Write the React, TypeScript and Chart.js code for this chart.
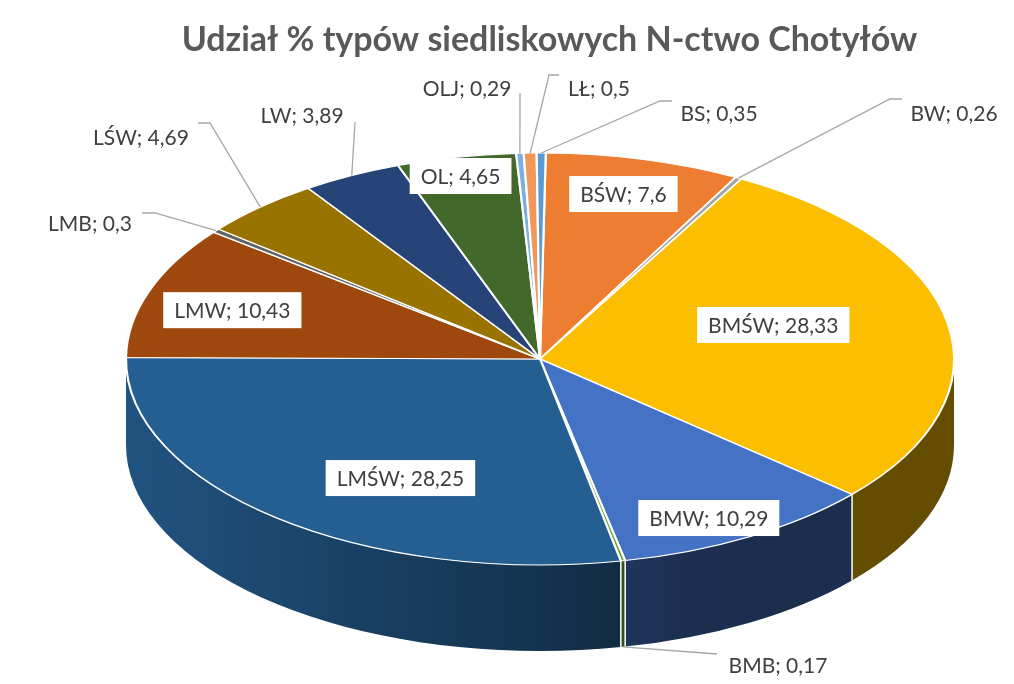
import React, { useEffect, useRef } from 'react';
import { Chart, registerables } from 'chart.js';

Chart.register(...registerables);

// ---- data (clockwise from the top) ----
const categories = ['BŚW', 'BW', 'BMŚW', 'BMW', 'BMB', 'LMŚW', 'LMW', 'LMB', 'LŚW', 'LW', 'OL', 'OLJ', 'LŁ', 'BS'];
const values = [7.6, 0.26, 28.33, 10.29, 0.17, 28.25, 10.43, 0.3, 4.69, 3.89, 4.65, 0.29, 0.5, 0.35];
const titleText = 'Udział % typów siedliskowych N-ctwo Chotyłów';

// ---- styles ----
const topColors = ['#ED7D31', '#A5A5A5', '#FBBE00', '#4472C4', '#70AD47', '#255E91', '#9E480E', '#636363', '#997300', '#264478', '#43682B', '#7CAFDD', '#F1975A', '#5B9BD5'];
const FONT = 'Lato, "Liberation Sans", sans-serif';
const ROTATION = 0.8;
const CX = 540, CY = 359, RX = 414, RY = 206, DEPTH = 86;

// label layout (annotation placement only)
type Lay = { inside?: boolean; fx?: number; fy?: number; tx?: number; ty?: number; path?: number[][]; fromBottom?: boolean };
const labelLayout: Lay[] = [
  { inside: true, fx: 0.806, fy: 0.827 },
  { tx: 954, ty: 113, path: [[890, 99], [902, 99]] },
  { inside: true, fx: 0.572, fy: 0.96 },
  { inside: true, fx: 0.806, fy: 0.895 },
  { tx: 778, ty: 665, path: [[717, 654]], fromBottom: true },
  { inside: true, fx: 0.529, fy: 0.75 },
  { inside: true, fx: 0.787, fy: 0.72 },
  { tx: 90, ty: 223, path: [[155, 213], [142, 213]] },
  { tx: 141, ty: 137, path: [[210, 123], [198, 123]] },
  { tx: 302, ty: 115, path: [[355, 122]] },
  { inside: true, fx: 0.948, fy: 0.907 },
  { tx: 467, ty: 88, path: [[520, 93]] },
  { tx: 599, ty: 88, path: [[549, 75], [559, 75]] },
  { tx: 719, ty: 113, path: [[660, 101], [672, 101]] },
];

function shade(hex: string, f: number) {
  const n = parseInt(hex.slice(1), 16);
  const r = Math.round(((n >> 16) & 255) * f);
  const g = Math.round(((n >> 8) & 255) * f);
  const b = Math.round((n & 255) * f);
  return `rgb(${r},${g},${b})`;
}
const sideFactor = (x: number) => Math.max(0.4, Math.min(0.88, 0.88 - (x - (CX - RX)) * (0.48 / 575)));

export default function App() {
  const ref = useRef<HTMLCanvasElement>(null);
  useEffect(() => {
    document.body.style.margin = '0';
    const canvas = ref.current!;
    const pie3d = {
      id: 'pie3d',
      beforeDatasetsDraw(chart: any) {
        const ctx = chart.ctx as CanvasRenderingContext2D;
        const arcs = chart.getDatasetMeta(0).data as any[];
        if (!arcs.length) return;
        const TAU = Math.PI * 2;
        // side walls
        arcs.forEach((arc, i) => {
          for (const off of [-TAU, 0, TAU]) {
            const s = Math.max(arc.startAngle + off, 0);
            const e = Math.min(arc.endAngle + off, Math.PI);
            if (e <= s) continue;
            const x0 = CX + RX * Math.cos(e), x1 = CX + RX * Math.cos(s);
            let fill: any;
            if (Math.abs(x1 - x0) < 1) fill = shade(topColors[i], sideFactor(x0));
            else {
              const g = ctx.createLinearGradient(x0, 0, x1, 0);
              for (let k = 0; k <= 4; k++) {
                const x = x0 + ((x1 - x0) * k) / 4;
                g.addColorStop(k / 4, shade(topColors[i], sideFactor(x)));
              }
              fill = g;
            }
            ctx.beginPath();
            ctx.ellipse(CX, CY, RX, RY, 0, s, e);
            ctx.ellipse(CX, CY + DEPTH, RX, RY, 0, e, s, true);
            ctx.closePath();
            ctx.fillStyle = fill;
            ctx.fill();
          }
        });
        // separators on the wall
        ctx.save();
        ctx.strokeStyle = '#FFFFFF';
        ctx.lineWidth = 1.5;
        arcs.forEach((arc) => {
          let a = arc.startAngle % TAU;
          if (a < 0) a += TAU;
          if (a > 0.03 && a < Math.PI - 0.03) {
            const x = CX + RX * Math.cos(a), y = CY + RY * Math.sin(a);
            ctx.beginPath();
            ctx.moveTo(x, y);
            ctx.lineTo(x, y + DEPTH);
            ctx.stroke();
          }
        });
        ctx.restore();
        // top face: map the library's circle onto the ellipse
        const a0 = arcs[0];
        ctx.save();
        ctx.translate(CX, CY);
        ctx.scale(RX / a0.outerRadius, RY / a0.outerRadius);
        ctx.translate(-a0.x, -a0.y);
      },
      afterDatasetsDraw(chart: any) {
        chart.ctx.restore();
      },
      afterDraw(chart: any) {
        const ctx = chart.ctx as CanvasRenderingContext2D;
        const arcs = chart.getDatasetMeta(0).data as any[];
        ctx.save();
        ctx.font = `21px ${FONT}`;
        ctx.textAlign = 'center';
        ctx.textBaseline = 'middle';
        arcs.forEach((arc, i) => {
          const lay = labelLayout[i];
          const text = `${categories[i]}; ${String(values[i]).replace('.', ',')}`;
          const m = (arc.startAngle + arc.endAngle) / 2;
          if (lay.inside) {
            const x = CX + RX * (lay.fx as number) * Math.cos(m);
            const y = CY + RY * (lay.fy as number) * Math.sin(m);
            const w = ctx.measureText(text).width + 22;
            const h = 36;
            ctx.fillStyle = '#FFFFFF';
            ctx.fillRect(x - w / 2, y - h / 2, w, h);
            ctx.fillStyle = '#404040';
            ctx.fillText(text, x, y + 1);
          } else {
            const sx = CX + RX * Math.cos(m);
            const sy = CY + RY * Math.sin(m) + (lay.fromBottom ? DEPTH : 0);
            ctx.strokeStyle = '#A6A6A6';
            ctx.lineWidth = 1.3;
            ctx.beginPath();
            ctx.moveTo(sx, sy);
            (lay.path || []).forEach((p) => ctx.lineTo(p[0], p[1]));
            ctx.stroke();
            ctx.fillStyle = '#404040';
            ctx.fillText(text, lay.tx as number, (lay.ty as number) + 1);
          }
        });
        ctx.restore();
      },
    };

    const chart = new Chart(canvas, {
      type: 'pie',
      data: {
        labels: categories,
        datasets: [
          {
            data: values,
            backgroundColor: topColors,
            borderColor: '#FFFFFF',
            borderWidth: 1.6,
            hoverOffset: 0,
            rotation: ROTATION,
            clip: false,
          } as any,
        ],
      },
      options: {
        responsive: false,
        animation: false,
        events: [],
        layout: { padding: { left: 85 } },
        plugins: {
          legend: { display: false },
          tooltip: { enabled: false },
          title: {
            display: true,
            text: titleText,
            color: '#595959',
            font: { family: FONT, size: 34, weight: 'bold' },
            padding: { top: 20, bottom: 10 },
          },
        },
      } as any,
      plugins: [pie3d],
    });
    return () => chart.destroy();
  }, []);

  return (
    <div style={{ position: 'fixed', left: 0, top: 0, width: 1014, height: 684, background: '#FFFFFF' }}>
      <canvas ref={ref} width={1014} height={684} style={{ display: 'block' }} />
    </div>
  );
}
